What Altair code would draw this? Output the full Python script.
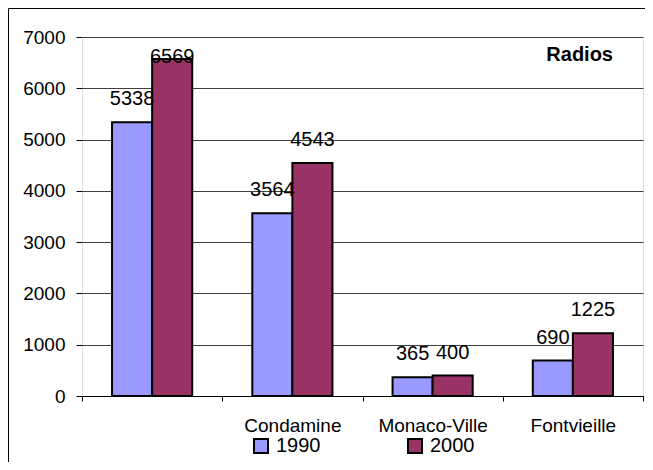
import altair as alt
import pandas as pd

categories = ["", "Condamine", "Monaco-Ville", "Fontvieille"]
years = ["1990", "2000"]
values_1990 = [5338, 3564, 365, 690]
values_2000 = [6569, 4543, 400, 1225]
y_ticks = [0, 1000, 2000, 3000, 4000, 5000, 6000, 7000]

rows = []
for c, v1, v2 in zip(categories, values_1990, values_2000):
    rows.append({"cat": c, "year": "1990", "value": v1})
    rows.append({"cat": c, "year": "2000", "value": v2})
df = pd.DataFrame(rows)

FONT = "Liberation Sans"

x_enc = alt.X("cat:N", sort=categories,
              scale=alt.Scale(paddingInner=0, paddingOuter=0),
              axis=alt.Axis(title=None, labelAngle=0, labelFontSize=19, labelFont=FONT,
                            labelColor="black", tickBand="extent", tickColor="black",
                            tickSize=5, domainColor="black", domainWidth=1,
                            labelPadding=15, grid=False))
xoff = alt.XOffset("year:N", sort=years,
                   scale=alt.Scale(paddingInner=0, paddingOuter=0.75))
y_scale = alt.Scale(domain=[0, 7000], nice=False)

base = alt.Chart(df)

bars = base.mark_bar(stroke="black", strokeWidth=2).encode(
    x=x_enc,
    xOffset=xoff,
    y=alt.Y("value:Q", scale=y_scale,
            axis=alt.Axis(title=None, values=y_ticks, format="d", grid=True,
                          gridColor="#404040", gridWidth=1, domain=False,
                          tickColor="black", tickSize=6, labelPadding=11,
                          labelFontSize=19, labelFont=FONT, labelColor="black")),
    color=alt.Color("year:N", sort=years,
                    scale=alt.Scale(domain=years, range=["#9999FF", "#993366"]),
                    legend=alt.Legend(title=None, orient="none", legendX=169, legendY=399,
                                      direction="horizontal", columnPadding=83,
                                      symbolType="square", symbolSize=196,
                                      symbolStrokeColor="black", symbolStrokeWidth=2,
                                      labelFontSize=20, labelFont=FONT, labelColor="black",
                                      labelOffset=5)),
)

labels = base.transform_calculate(
    label_y="min(datum.value + 331, 6492)"
).mark_text(baseline="alphabetic", fontSize=20, font=FONT, color="black").encode(
    x=alt.X("cat:N", sort=categories),
    xOffset=alt.XOffset("year:N", sort=years),
    y=alt.Y("label_y:Q", scale=y_scale),
    text=alt.Text("value:Q"),
)

title_txt = alt.Chart(alt.Data(values=[{}])).mark_text(
    text="Radios", fontSize=20, fontWeight="bold", font=FONT, color="black",
    align="right", baseline="alphabetic"
).encode(x=alt.value(531), y=alt.value(24))

border = alt.Chart(alt.Data(values=[{}])).mark_rect(
    fill=None, stroke="black", strokeWidth=1
).encode(x=alt.value(-73.5), x2=alt.value(700), y=alt.value(-28.5), y2=alt.value(500))

chart = alt.layer(border, bars, labels, title_txt).properties(
    width=561, height=359,
    padding={"left": 74, "top": 29, "right": 2, "bottom": 66},
    autosize="none",
).configure_view(
    fill="#C0C0C0", stroke="#808080", strokeWidth=1
).configure(background="white")

chart.save("out.html", embed_options={"renderer": "svg", "actions": False})
